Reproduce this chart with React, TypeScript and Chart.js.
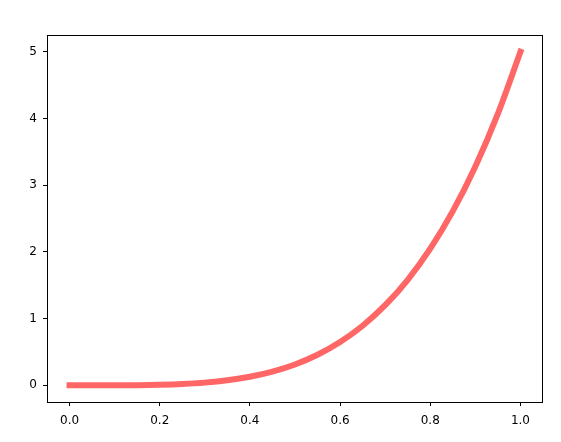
import React, { useEffect, useRef } from "react";
import { Chart, registerables } from "chart.js";

Chart.register(...registerables);

const xValues = [0, 0.05, 0.1, 0.15, 0.2, 0.25, 0.3, 0.35, 0.4, 0.45, 0.5, 0.55, 0.6, 0.65, 0.7, 0.75, 0.8, 0.85, 0.9, 0.95, 1.0];
const yValues = [0, 0.00003, 0.0005, 0.0025, 0.008, 0.0195, 0.0405, 0.075, 0.128, 0.205, 0.3125, 0.4575, 0.648, 0.8925, 1.2005, 1.582, 2.048, 2.61, 3.2805, 4.0725, 5.0];
const xTicks = [0, 0.2, 0.4, 0.6, 0.8, 1.0];
const yTicks = [0, 1, 2, 3, 4, 5];

const framePlugin = {
  id: "frame",
  afterDraw(chart: any) {
    const { ctx, chartArea } = chart;
    ctx.save();
    ctx.strokeStyle = "#000";
    ctx.lineWidth = 1;
    ctx.strokeRect(
      Math.round(chartArea.left) + 0.5,
      Math.round(chartArea.top) + 0.5,
      Math.round(chartArea.right - chartArea.left) - 1,
      Math.round(chartArea.bottom - chartArea.top)
    );
    ctx.restore();
  },
};

export default function App() {
  const ref = useRef<HTMLCanvasElement | null>(null);
  useEffect(() => {
    if (!ref.current) return;
    const font = { family: "'DejaVu Sans', sans-serif", size: 12 };
    const chart = new Chart(ref.current, {
      type: "line",
      data: {
        datasets: [
          {
            data: xValues.map((x, i) => ({ x, y: yValues[i] })),
            borderColor: "rgba(255,0,0,0.6)",
            borderWidth: 6,
            borderCapStyle: "square",
            pointRadius: 0,
            cubicInterpolationMode: "monotone",
            fill: false,
          },
        ],
      },
      options: {
        animation: false,
        responsive: false,
        layout: { padding: { top: 35, right: 18, left: 0, bottom: 0 } },
        plugins: { legend: { display: false }, tooltip: { enabled: false } },
        scales: {
          x: {
            type: "linear",
            min: -0.05,
            max: 1.05,
            afterBuildTicks: (s: any) => {
              s.ticks = xTicks.map((v) => ({ value: v }));
            },
            afterFit: (s: any) => {
              s.height = 40;
            },
            grid: { display: true, drawOnChartArea: false, drawTicks: true, tickLength: 4, color: "#000" },
            border: { display: false },
            ticks: { color: "#000", font, padding: 8, maxRotation: 0, callback: (v: any) => Number(v).toFixed(1) },
          },
          y: {
            type: "linear",
            min: -0.25,
            max: 5.25,
            afterBuildTicks: (s: any) => {
              s.ticks = yTicks.map((v) => ({ value: v }));
            },
            afterFit: (s: any) => {
              s.width = 47;
            },
            grid: { display: true, drawOnChartArea: false, drawTicks: true, tickLength: 4, color: "#000" },
            border: { display: false },
            ticks: { color: "#000", font, padding: 6, callback: (v: any) => String(v) },
          },
        },
      },
      plugins: [framePlugin],
    } as any);
    return () => chart.destroy();
  }, []);
  return (
    <div style={{ position: "absolute", left: 0, top: 0, width: 561, height: 442, background: "#fff" }}>
      <canvas ref={ref} width={561} height={442} style={{ width: 561, height: 442, display: "block" }} />
    </div>
  );
}
